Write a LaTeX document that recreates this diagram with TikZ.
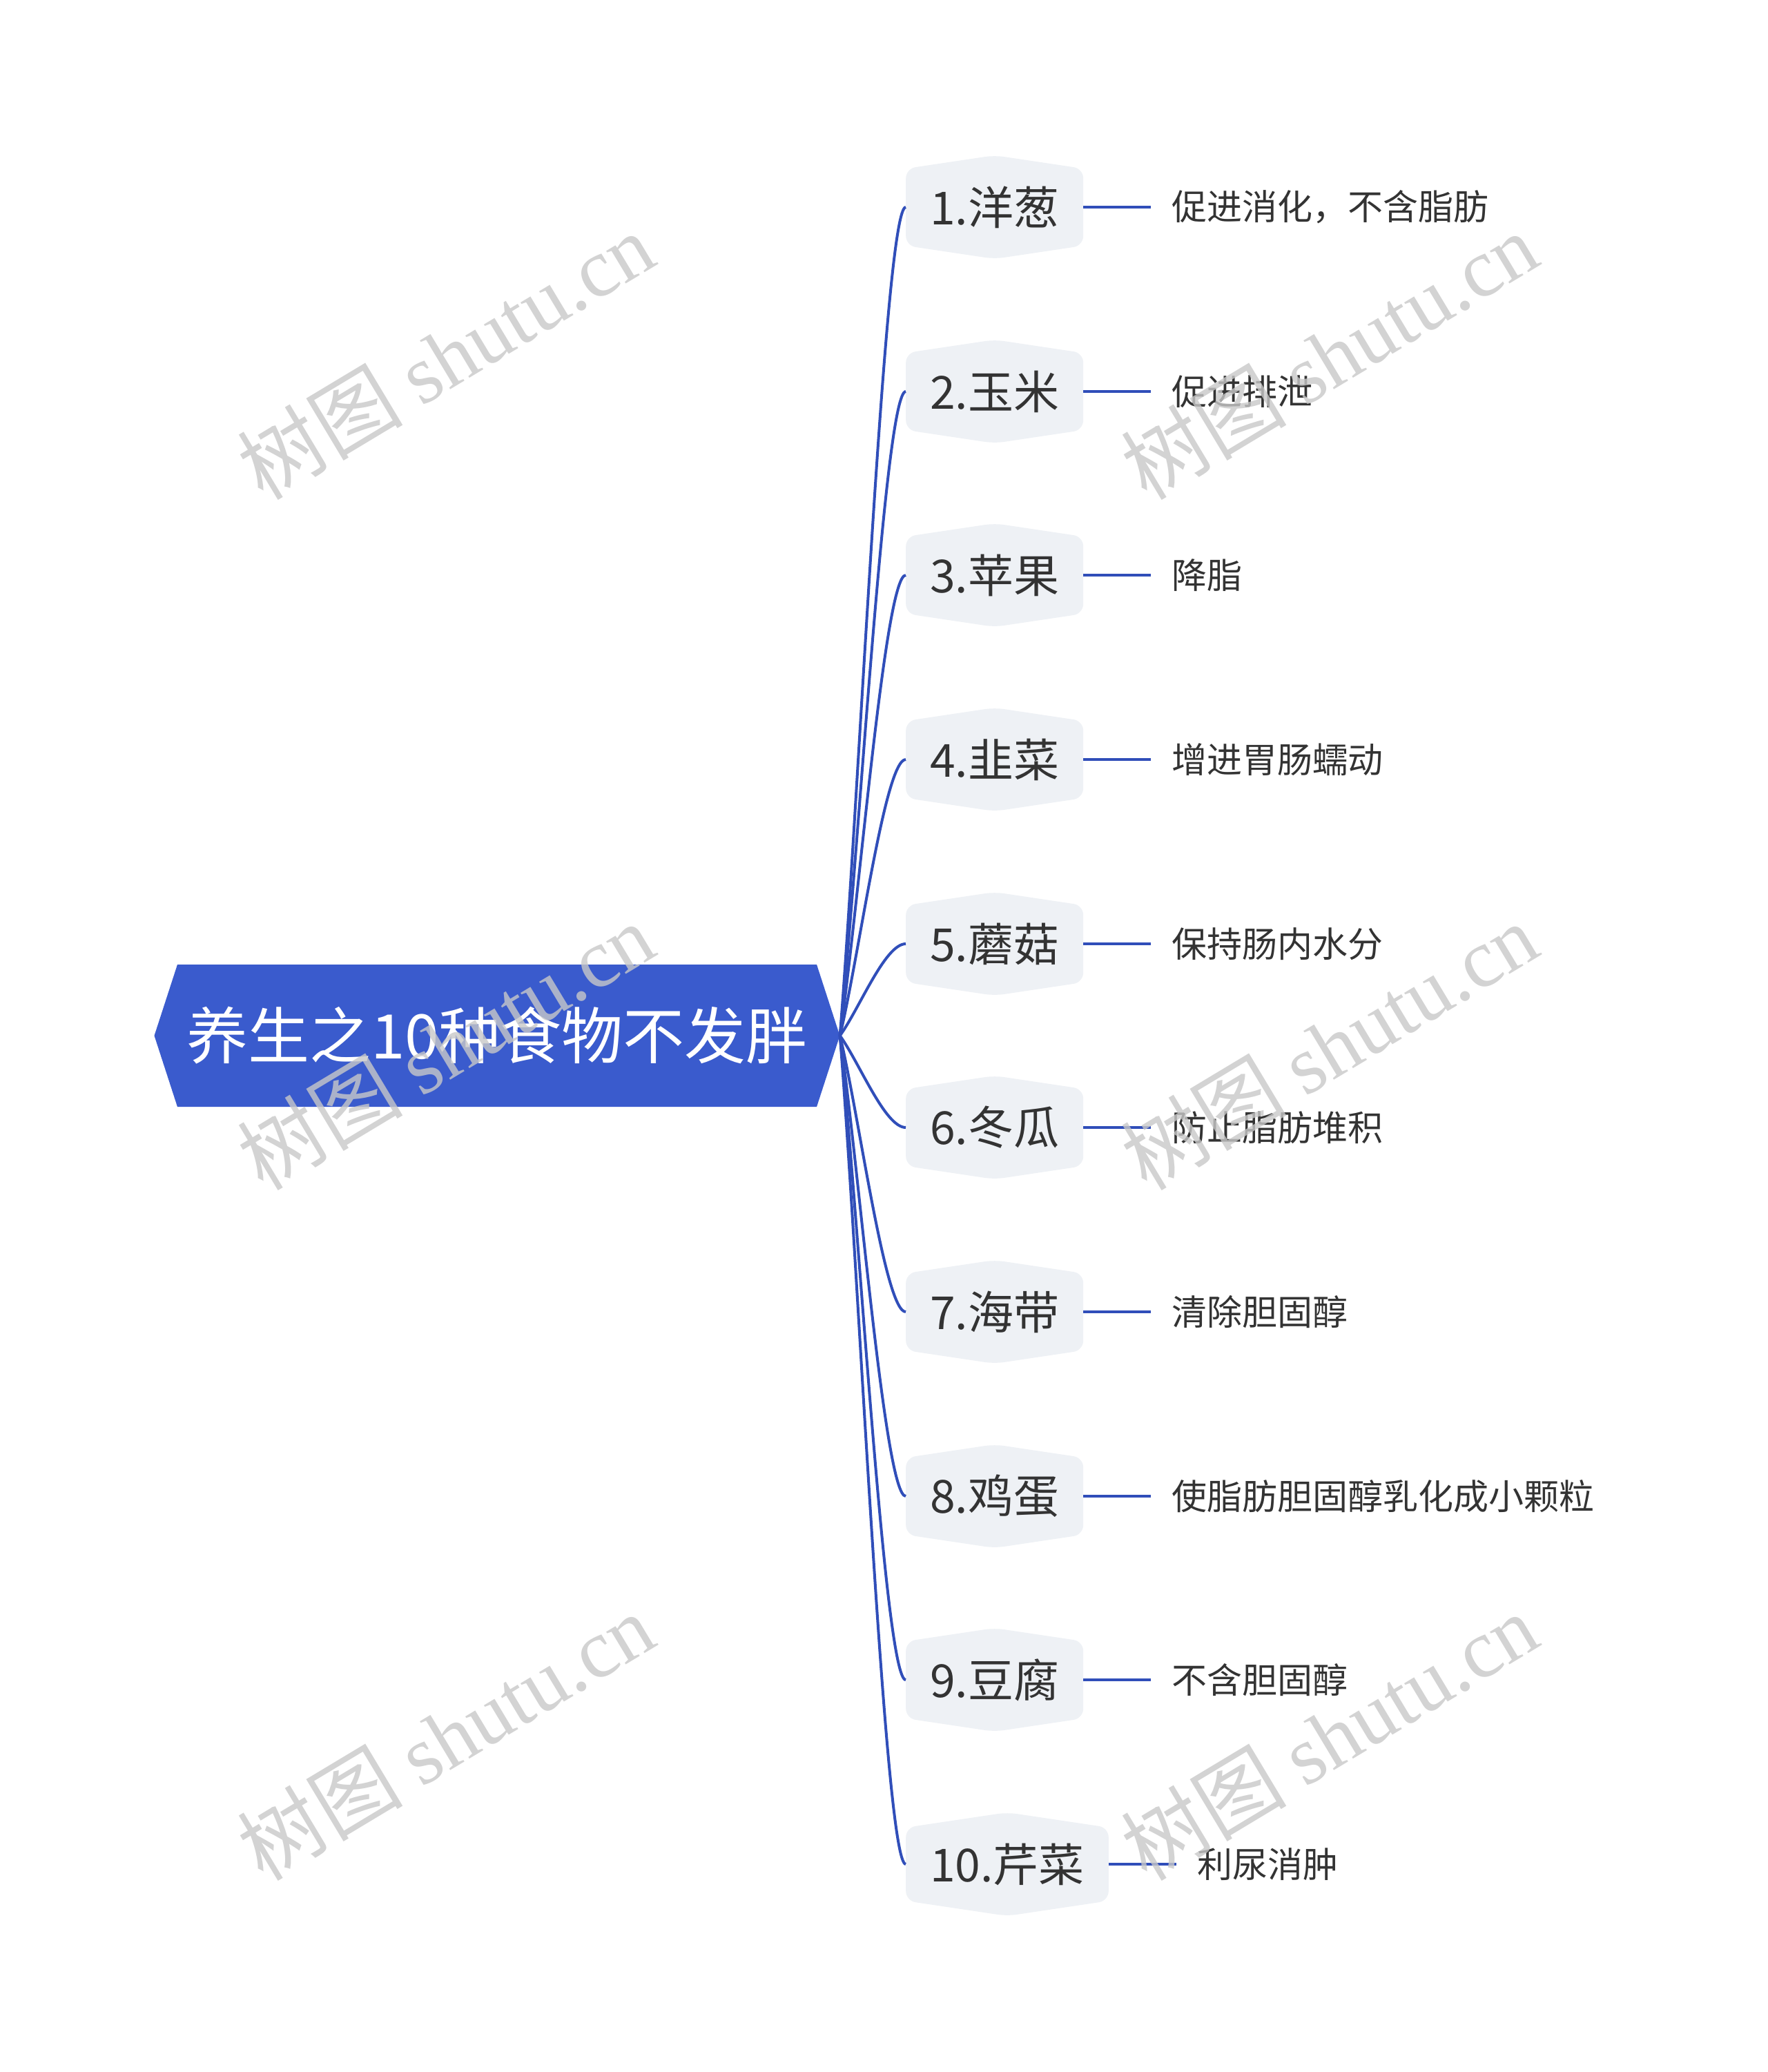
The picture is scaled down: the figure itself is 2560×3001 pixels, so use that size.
\documentclass[tikz,border=0pt]{standalone}
\usepackage{fontspec}
\newfontfamily\cjk{Noto Sans CJK SC}
\newfontfamily\wmlatin{Liberation Serif}
\usepackage{tikz}
\usetikzlibrary{shapes.symbols, positioning, calc}
\definecolor{rootblue}{RGB}{58,91,205}
\definecolor{linkblue}{RGB}{48,78,185}
\definecolor{branchgray}{RGB}{238,241,245}
\definecolor{inkgray}{RGB}{51,51,51}
\definecolor{wmgray}{RGB}{200,200,200}

\begin{document}
\begin{tikzpicture}[
    x=1pt, y=-1pt,
    node distance=98pt,
    root/.style={signal, signal to=west and east, signal pointer angle=144,
      fill=rootblue, text=white, font=\cjk\fontsize{89}{100}\selectfont,
      minimum width=993pt, minimum height=206pt, inner sep=0pt},
    branch/.style={signal, signal to=north and south, signal pointer angle=163,
      fill=branchgray, rounded corners=14pt, text=inkgray,
      font=\cjk\fontsize{66}{72}\selectfont, inner xsep=35pt,
      minimum width=253pt, minimum height=150pt, anchor=west},
    leaf/.style={text=inkgray, font=\cjk\fontsize{51}{56}\selectfont,
      inner xsep=30pt, inner ysep=0pt},
    fan/.style={draw=linkblue, line width=4pt,
      to path={.. controls ($(\tikztostart)!.3!(\tikztotarget)$)
        and ([xshift=-30pt]\tikztotarget) .. (\tikztotarget)}},
    twig/.style={draw=linkblue, line width=4.5pt},
    watermark/.style={rotate=31, text=wmgray, text opacity=0.8,
      font=\cjk\fontsize{120}{120}\selectfont},
]
  \useasboundingbox (0,0) rectangle (2560,3001);

  \node[root] (root) at (720,1500) {养生之10种食物不发胖};

  \node[branch] (b1) at (1312,300) {1.洋葱};
  \node[branch] (b2) at (1312,567) {2.玉米};
  \node[branch] (b3) at (1312,833) {3.苹果};
  \node[branch] (b4) at (1312,1100) {4.韭菜};
  \node[branch] (b5) at (1312,1367) {5.蘑菇};
  \node[branch] (b6) at (1312,1633) {6.冬瓜};
  \node[branch] (b7) at (1312,1900) {7.海带};
  \node[branch] (b8) at (1312,2167) {8.鸡蛋};
  \node[branch] (b9) at (1312,2433) {9.豆腐};
  \node[branch] (b10) at (1312,2700) {10.芹菜};

  \node[leaf, right=of b1] (l1) {促进消化，不含脂肪};
  \node[leaf, right=of b2] (l2) {促进排泄};
  \node[leaf, right=of b3] (l3) {降脂};
  \node[leaf, right=of b4] (l4) {增进胃肠蠕动};
  \node[leaf, right=of b5] (l5) {保持肠内水分};
  \node[leaf, right=of b6] (l6) {防止脂肪堆积};
  \node[leaf, right=of b7] (l7) {清除胆固醇};
  \node[leaf, right=of b8] (l8) {使脂肪胆固醇乳化成小颗粒};
  \node[leaf, right=of b9] (l9) {不含胆固醇};
  \node[leaf, right=of b10] (l10) {利尿消肿};

  \path (root.east) edge[fan] (b1.west) edge[fan] (b2.west)
    edge[fan] (b3.west) edge[fan] (b4.west) edge[fan] (b5.west)
    edge[fan] (b6.west) edge[fan] (b7.west) edge[fan] (b8.west)
    edge[fan] (b9.west) edge[fan] (b10.west);

  \draw[twig] (b1.east) -- (l1.west);
  \draw[twig] (b2.east) -- (l2.west);
  \draw[twig] (b3.east) -- (l3.west);
  \draw[twig] (b4.east) -- (l4.west);
  \draw[twig] (b5.east) -- (l5.west);
  \draw[twig] (b6.east) -- (l6.west);
  \draw[twig] (b7.east) -- (l7.west);
  \draw[twig] (b8.east) -- (l8.west);
  \draw[twig] (b9.east) -- (l9.west);
  \draw[twig] (b10.east) -- (l10.west);

  % watermarks
  \node[watermark] (wm1) at (645,515) {树图 {\wmlatin shutu.cn}};
  \node[watermark] (wm2) at (1925,515) {树图 {\wmlatin shutu.cn}};
  \node[watermark] (wm3) at (645,1515) {树图 {\wmlatin shutu.cn}};
  \node[watermark] (wm4) at (1925,1515) {树图 {\wmlatin shutu.cn}};
  \node[watermark] (wm5) at (645,2515) {树图 {\wmlatin shutu.cn}};
  \node[watermark] (wm6) at (1925,2515) {树图 {\wmlatin shutu.cn}};
\end{tikzpicture}
\end{document}
